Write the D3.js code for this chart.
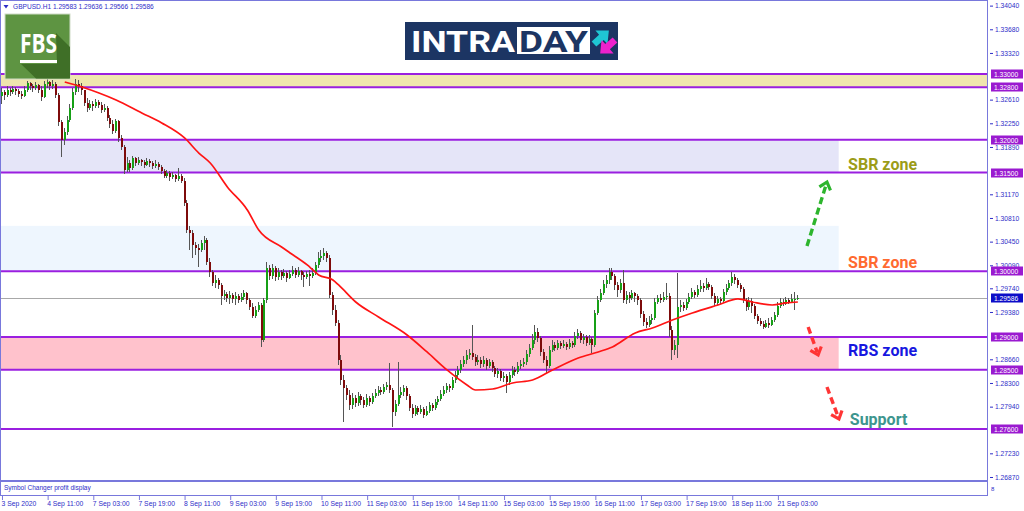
<!DOCTYPE html>
<html>
<head>
<meta charset="utf-8">
<script src="https://cdn.jsdelivr.net/npm/d3@7"></script>
<style>
  body { margin: 0; background: #fff; overflow: hidden; }
  svg { display: block; }
</style>
</head>
<body>
<div id="container"></div>
<script>
// GBPUSD H1 candles, 3 Sep 19:00 -> 21 Sep 10:00 (open = previous close)
const firstOpen = 1.3267;
const closes = [
  1.3273,1.3268,1.3276,1.3273,1.3277,1.3274,1.3270,1.3267,1.3276,1.3286,
  1.3282,1.3279,1.3283,1.3276,1.3265,1.3285,1.3288,1.3282,1.3285,1.3268,
  1.3227,1.3200,1.3212,1.3230,1.3248,1.3273,1.3285,1.3282,1.3276,1.3256,
  1.3248,1.3254,1.3251,1.3257,1.3253,1.3245,1.3248,1.3233,1.3224,1.3213,
  1.3229,1.3203,1.3189,1.3154,1.3165,1.3157,1.3172,1.3165,1.3169,1.3166,
  1.3162,1.3168,1.3165,1.3160,1.3163,1.3159,1.3152,1.3145,1.3149,1.3143,
  1.3146,1.3140,1.3145,1.3137,1.3104,1.3063,1.3058,1.3040,1.3035,1.3032,
  1.3043,1.3048,1.3014,1.2999,1.2982,1.2987,1.2979,1.2962,1.2965,1.2959,
  1.2964,1.2958,1.2962,1.2956,1.2961,1.2967,1.2956,1.2946,1.2932,1.2941,
  1.2949,1.2895,1.2956,1.3005,1.2993,1.3005,1.2991,1.2999,1.2993,1.2997,
  1.2990,1.2996,1.3002,1.2994,1.3000,1.2994,1.2991,1.2996,1.2993,1.2997,
  1.3009,1.3020,1.3023,1.3028,1.3020,1.2964,1.2941,1.2921,1.2865,1.2835,
  1.2822,1.2812,1.2797,1.2807,1.2800,1.2810,1.2804,1.2797,1.2807,1.2801,
  1.2810,1.2815,1.2819,1.2816,1.2824,1.2827,1.2819,1.2786,1.2798,1.2812,
  1.2816,1.2822,1.2810,1.2792,1.2783,1.2792,1.2786,1.2790,1.2781,1.2787,
  1.2797,1.2792,1.2801,1.2806,1.2813,1.2819,1.2825,1.2822,1.2835,1.2842,
  1.2850,1.2859,1.2865,1.2873,1.2876,1.2870,1.2862,1.2865,1.2859,1.2865,
  1.2856,1.2862,1.2853,1.2844,1.2848,1.2838,1.2841,1.2832,1.2842,1.2850,
  1.2847,1.2856,1.2859,1.2862,1.2874,1.2883,1.2895,1.2908,1.2898,1.2877,
  1.2865,1.2856,1.2880,1.2888,1.2883,1.2891,1.2886,1.2889,1.2885,1.2891,
  1.2888,1.2902,1.2906,1.2895,1.2900,1.2891,1.2897,1.2888,1.2936,1.2956,
  1.2967,1.2981,1.2987,1.2999,1.2993,1.2979,1.2971,1.2982,1.2956,1.2964,
  1.2959,1.2967,1.2962,1.2956,1.2935,1.2923,1.2918,1.2926,1.2929,1.2953,
  1.2959,1.2956,1.2961,1.2962,1.2911,1.2880,1.2888,1.2946,1.2949,1.2944,
  1.2953,1.2961,1.2968,1.2964,1.2973,1.2978,1.2975,1.2981,1.2976,1.2962,
  1.2952,1.2958,1.2955,1.2968,1.2975,1.2982,1.2991,1.2987,1.2979,1.2973,
  1.2956,1.2946,1.2955,1.2947,1.2932,1.2924,1.2920,1.2915,1.2921,1.2918,
  1.2926,1.2933,1.2947,1.2953,1.2950,1.2956,1.2953,1.2958,1.29583,1.29586
];
const highs = [
  1.3279,1.3276,1.3282,1.3279,1.3282,1.3280,1.3277,1.3274,1.3282,1.3289,
  1.3288,1.3285,1.3288,1.3285,1.3282,1.3289,1.3292,1.3289,1.3291,1.3288,
  1.3271,1.3230,1.3218,1.3236,1.3254,1.3279,1.3292,1.3291,1.3286,1.3273,
  1.3263,1.3260,1.3259,1.3262,1.3260,1.3257,1.3254,1.3251,1.3238,1.3230,
  1.3232,1.3230,1.3207,1.3192,1.3174,1.3169,1.3175,1.3174,1.3174,1.3171,
  1.3169,1.3172,1.3171,1.3168,1.3169,1.3166,1.3162,1.3156,1.3154,1.3152,
  1.3151,1.3148,1.3157,1.3148,1.3142,1.3108,1.3069,1.3063,1.3044,1.3041,
  1.3048,1.3054,1.3051,1.3020,1.3002,1.2994,1.2990,1.2982,1.2971,1.2968,
  1.2970,1.2967,1.2968,1.2965,1.2967,1.2971,1.2968,1.2959,1.2952,1.2947,
  1.2953,1.2952,1.2959,1.3014,1.3009,1.3011,1.3008,1.3005,1.3002,1.3003,
  1.3000,1.3002,1.3008,1.3005,1.3006,1.3002,1.2999,1.3000,1.3002,1.3005,
  1.3014,1.3029,1.3032,1.3035,1.3031,1.3025,1.2968,1.2949,1.2926,1.2873,
  1.2842,1.2827,1.2819,1.2815,1.2812,1.2816,1.2813,1.2809,1.2813,1.2810,
  1.2815,1.2821,1.2825,1.2824,1.2828,1.2832,1.2860,1.2822,1.2804,1.2862,
  1.2824,1.2827,1.2825,1.2813,1.2798,1.2797,1.2795,1.2797,1.2794,1.2795,
  1.2801,1.2800,1.2806,1.2810,1.2819,1.2825,1.2830,1.2828,1.2839,1.2848,
  1.2856,1.2865,1.2871,1.2880,1.2882,1.2918,1.2874,1.2873,1.2870,1.2871,
  1.2868,1.2867,1.2865,1.2856,1.2853,1.2851,1.2847,1.2844,1.2847,1.2856,
  1.2854,1.2862,1.2865,1.2868,1.2880,1.2889,1.2905,1.2918,1.2914,1.2902,
  1.2882,1.2871,1.2886,1.2895,1.2892,1.2895,1.2894,1.2895,1.2892,1.2897,
  1.2894,1.2908,1.2912,1.2909,1.2905,1.2903,1.2903,1.2900,1.2941,1.2962,
  1.2973,1.2987,1.2994,1.3005,1.3005,1.2996,1.2984,1.2988,1.3002,1.2970,
  1.2968,1.2971,1.2968,1.2965,1.2959,1.2940,1.2929,1.2932,1.2935,1.2959,
  1.2964,1.2965,1.2968,1.2982,1.2967,1.2917,1.2895,1.2997,1.2956,1.2953,
  1.2958,1.2967,1.2975,1.2971,1.2979,1.2987,1.2982,1.2990,1.2984,1.2979,
  1.2967,1.2962,1.2961,1.2973,1.2981,1.2987,1.2999,1.2996,1.2990,1.2982,
  1.2976,1.2959,1.2961,1.2959,1.2950,1.2935,1.2929,1.2924,1.2926,1.2929,
  1.2930,1.2938,1.2953,1.2959,1.2958,1.2961,1.2959,1.2965,1.2968,1.29636
];
const lows = [
  1.3254,1.3260,1.3265,1.3267,1.3270,1.3268,1.3265,1.3262,1.3265,1.3273,
  1.3276,1.3273,1.3276,1.3271,1.3259,1.3263,1.3279,1.3276,1.3277,1.3263,
  1.3221,1.3174,1.3192,1.3207,1.3227,1.3245,1.3268,1.3273,1.3268,1.3251,
  1.3242,1.3245,1.3244,1.3248,1.3248,1.3241,1.3242,1.3229,1.3218,1.3209,
  1.3210,1.3197,1.3184,1.3148,1.3151,1.3151,1.3154,1.3160,1.3162,1.3160,
  1.3157,1.3160,1.3159,1.3156,1.3157,1.3154,1.3148,1.3142,1.3142,1.3137,
  1.3140,1.3136,1.3137,1.3134,1.3099,1.3058,1.3032,1.3020,1.3025,1.3006,
  1.3029,1.3032,1.3009,1.2991,1.2978,1.2975,1.2973,1.2949,1.2956,1.2953,
  1.2950,1.2952,1.2949,1.2952,1.2953,1.2956,1.2950,1.2941,1.2929,1.2929,
  1.2938,1.2885,1.2892,1.2952,1.2987,1.2988,1.2985,1.2987,1.2987,1.2990,
  1.2984,1.2988,1.2993,1.2990,1.2991,1.2987,1.2976,1.2988,1.2978,1.2990,
  1.2994,1.3005,1.3014,1.3017,1.3014,1.2959,1.2933,1.2917,1.2857,1.2827,
  1.2771,1.2804,1.2789,1.2790,1.2794,1.2795,1.2797,1.2792,1.2794,1.2795,
  1.2798,1.2807,1.2810,1.2812,1.2813,1.2819,1.2815,1.2763,1.2780,1.2795,
  1.2807,1.2810,1.2804,1.2787,1.2777,1.2780,1.2781,1.2783,1.2777,1.2780,
  1.2784,1.2787,1.2789,1.2797,1.2803,1.2810,1.2815,1.2816,1.2819,1.2830,
  1.2838,1.2845,1.2854,1.2859,1.2866,1.2865,1.2856,1.2857,1.2853,1.2854,
  1.2850,1.2853,1.2847,1.2839,1.2838,1.2833,1.2832,1.2815,1.2827,1.2838,
  1.2841,1.2844,1.2851,1.2854,1.2857,1.2870,1.2880,1.2889,1.2892,1.2871,
  1.2860,1.2845,1.2853,1.2877,1.2879,1.2880,1.2882,1.2883,1.2880,1.2882,
  1.2883,1.2885,1.2897,1.2891,1.2889,1.2886,1.2888,1.2876,1.2885,1.2933,
  1.2953,1.2964,1.2975,1.2981,1.2987,1.2971,1.2961,1.2967,1.2952,1.2950,
  1.2952,1.2956,1.2953,1.2949,1.2929,1.2917,1.2914,1.2915,1.2920,1.2926,
  1.2950,1.2952,1.2953,1.2956,1.2900,1.2865,1.2873,1.2868,1.2938,1.2940,
  1.2941,1.2950,1.2958,1.2959,1.2961,1.2968,1.2968,1.2971,1.2971,1.2958,
  1.2947,1.2949,1.2950,1.2952,1.2964,1.2971,1.2978,1.2981,1.2975,1.2968,
  1.2952,1.2940,1.2941,1.2936,1.2927,1.2920,1.2917,1.2912,1.2914,1.2914,
  1.2917,1.2923,1.2930,1.2944,1.2947,1.2949,1.2950,1.2952,1.2941,1.29566
];

// moving average (red line), read at selected bars
const maBars = [22,28,34,40,49,56,64,69,73,79,86,90,98,101,107,109,111,116,118,124,132,142,149,156,163,166,172,179,186,193,202,209,214,222,228,235,242,251,258,263,270,275,279];
const maValues = [1.32878,1.32802,1.32711,1.32605,1.32407,1.32255,1.32027,1.31798,1.31646,1.31282,1.30932,1.30627,1.30369,1.30278,1.30095,1.30019,1.29943,1.29867,1.29791,1.29532,1.29304,1.29030,1.28772,1.28498,1.28270,1.28193,1.28208,1.28300,1.28345,1.28498,1.28680,1.28772,1.28848,1.29061,1.29137,1.29258,1.29365,1.29486,1.29578,1.29532,1.29486,1.29517,1.29532];

// horizontal levels and shaded zones
const levels = [1.33, 1.328, 1.32, 1.315, 1.30, 1.29, 1.285, 1.276];
const zoneTops = [1.33, 1.32, 1.3069, 1.29];
const zoneBottoms = [1.328, 1.315, 1.30, 1.285];
const zoneEndBars = [345.3, 293.3, 293.3, 293.3];
const lastPrice = 1.29586;

// axis ticks
const priceTicks = [1.34040,1.33680,1.33320,1.32610,1.32250,1.31890,1.31170,1.30810,1.30450,1.30090,1.29740,1.29380,1.28660,1.28300,1.27940,1.27230,1.26870];
const timeTickBars = [0,16,32,48,64,80,96,112,128,144,160,176,192,208,224,240,256,272];
const timeTickLabels = ["3 Sep 2020","4 Sep 11:00","7 Sep 03:00","7 Sep 19:00","8 Sep 11:00","9 Sep 03:00","9 Sep 19:00","10 Sep 11:00","11 Sep 03:00","11 Sep 19:00","14 Sep 11:00","15 Sep 03:00","15 Sep 19:00","16 Sep 11:00","17 Sep 03:00","17 Sep 19:00","18 Sep 11:00","21 Sep 03:00"];

// annotations: [bar, price]
const zoneLabels = ["SBR zone", "SBR zone", "RBS zone", "Support"];
const zoneLabelAt = [[296.6, 1.3154], [296.6, 1.30055], [296.6, 1.28705], [297.2, 1.27663]];
const arrowFrom = [[282.2, 1.30384], [282.6, 1.29152], [289.2, 1.28239]];
const arrowTo = [[289.2, 1.31357], [286.1, 1.28726], [293.4, 1.27752]];

// ---------------------------------------------------------------
const width = 1024, height = 511;
const pLeft = 1, pRight = 987, pTop = 1, pBottom = 481;
const frame = "#7878dc";
const axisText = "#2d2dc8";
const small = "'Liberation Sans', Arial, sans-serif";

const svg = d3.select("#container").append("svg")
  .attr("width", width).attr("height", height);

const x = d3.scaleLinear().domain([-0.35, 345.3]).range([pLeft, pRight]);
const y = d3.scaleLinear().domain([1.26809, 1.34095]).range([pBottom, 2]);

svg.append("clipPath").attr("id", "plot")
  .append("rect").attr("x", pLeft).attr("y", pTop).attr("width", pRight - pLeft).attr("height", pBottom - pTop);

const plot = svg.append("g").attr("clip-path", "url(#plot)");

// zones
const zoneFills = ["#efe6ae", "#e5e5f8", "#eef6fe", "#ffc2cc"];
plot.selectAll(".zone").data(zoneTops).enter().append("rect")
  .attr("x", pLeft)
  .attr("y", d => y(d))
  .attr("width", (d, i) => x(zoneEndBars[i]) - pLeft)
  .attr("height", (d, i) => y(zoneBottoms[i]) - y(d))
  .attr("fill", (d, i) => zoneFills[i]);

// level lines
plot.selectAll(".lvl").data(levels).enter().append("line")
  .attr("x1", pLeft).attr("x2", pRight)
  .attr("y1", d => y(d)).attr("y2", d => y(d))
  .attr("stroke", "#9a1fe0").attr("stroke-width", 2);

// last price line
plot.append("line")
  .attr("x1", pLeft).attr("x2", pRight)
  .attr("y1", y(lastPrice)).attr("y2", y(lastPrice))
  .attr("stroke", "#a8a8a8").attr("stroke-width", 1).attr("shape-rendering", "crispEdges");

// candles
const bars = closes.map((c, i) => {
  const o = i === 0 ? firstOpen : closes[i - 1];
  return { i, o, c, h: Math.max(highs[i], o, c), l: Math.min(lows[i], o, c) };
});
const cg = plot.append("g").attr("shape-rendering", "crispEdges");
cg.selectAll(".wick").data(bars).enter().append("line")
  .attr("x1", d => Math.round(x(d.i)) - 0.5).attr("x2", d => Math.round(x(d.i)) - 0.5)
  .attr("y1", d => y(d.h)).attr("y2", d => y(d.l))
  .attr("stroke", "#555").attr("stroke-width", 1);
cg.selectAll(".body").data(bars).enter().append("rect")
  .attr("x", d => Math.round(x(d.i)) - 1)
  .attr("width", 2)
  .attr("y", d => y(Math.max(d.o, d.c)))
  .attr("height", d => Math.max(1, Math.abs(y(d.o) - y(d.c))))
  .attr("fill", d => d.c >= d.o ? "#16a016" : "#7e0b0b");

// moving average
const ma = maBars.map((b, i) => [b, maValues[i]]);
plot.append("path")
  .attr("d", d3.line().x(d => x(d[0])).y(d => y(d[1])).curve(d3.curveMonotoneX)(ma))
  .attr("fill", "none").attr("stroke", "#ff1414").attr("stroke-width", 1.7);

// annotation text
const labelColors = ["#9c9c18", "#ff6a30", "#1717e0", "#3d958e"];
svg.selectAll(".zlabel").data(zoneLabels).enter().append("text")
  .attr("x", (d, i) => x(zoneLabelAt[i][0]))
  .attr("y", (d, i) => y(zoneLabelAt[i][1]))
  .attr("fill", (d, i) => labelColors[i])
  .style("font-family", "Roboto, sans-serif")
  .style("font-weight", 700)
  .style("font-size", "16px")
  .text(d => d);

// dashed arrows
const arrowColors = ["#2db52d", "#ff3535", "#ff3535"];
arrowFrom.forEach((f, i) => {
  const x1 = x(f[0]), y1 = y(f[1]), x2 = x(arrowTo[i][0]), y2 = y(arrowTo[i][1]);
  const a = Math.atan2(y2 - y1, x2 - x1);
  svg.append("line")
    .attr("x1", x1).attr("y1", y1)
    .attr("x2", x2 - 3 * Math.cos(a)).attr("y2", y2 - 3 * Math.sin(a))
    .attr("stroke", arrowColors[i]).attr("stroke-width", 3.4)
    .attr("stroke-dasharray", "7,4");
  const L = 9, s = 0.7;
  const pts = [
    [x2 - L * Math.cos(a - s), y2 - L * Math.sin(a - s)],
    [x2, y2],
    [x2 - L * Math.cos(a + s), y2 - L * Math.sin(a + s)]
  ];
  svg.append("polyline")
    .attr("points", pts.map(p => p.join(",")).join(" "))
    .attr("fill", "none").attr("stroke", arrowColors[i])
    .attr("stroke-width", 3.2).attr("stroke-linejoin", "miter");
});

// FBS logo
const fbs = svg.append("g");
fbs.append("rect").attr("x", 5).attr("y", 14).attr("width", 65).attr("height", 65)
  .attr("fill", "#5e9442").attr("stroke", "#cfdcc8").attr("stroke-width", 1);
fbs.append("polygon").attr("points", "56,33 70,47 70,78.5 36,78.5 21,64 57,64")
  .attr("fill", "#3f6f27");
fbs.append("text").attr("x", 20).attr("y", 53)
  .attr("textLength", 37).attr("lengthAdjust", "spacingAndGlyphs")
  .style("font-family", "'Open Sans', sans-serif").style("font-weight", 700).style("font-size", "27px")
  .attr("fill", "#fff").text("FBS");
fbs.append("rect").attr("x", 20).attr("y", 60).attr("width", 37).attr("height", 3).attr("fill", "#fff");

// INTRADAY logo
const navy = "#1c3563";
const intra = svg.append("g");
intra.append("rect").attr("x", 405).attr("y", 22).attr("width", 213).attr("height", 38).attr("fill", navy);
intra.append("text").attr("x", 411).attr("y", 52)
  .attr("textLength", 104).attr("lengthAdjust", "spacingAndGlyphs")
  .style("font-family", "Roboto, sans-serif").style("font-weight", 700).style("font-size", "30px")
  .attr("fill", "#fff").text("INTRA");
intra.append("rect").attr("x", 517).attr("y", 27).attr("width", 73).attr("height", 27).attr("fill", "#fff");
intra.append("text").attr("x", 519).attr("y", 52)
  .attr("textLength", 69).attr("lengthAdjust", "spacingAndGlyphs")
  .style("font-family", "Roboto, sans-serif").style("font-weight", 700).style("font-size", "30px")
  .attr("fill", navy).text("DAY");
const arrowShape = "0,-3.5 10,-3.5 10,-9 20,0 10,9 10,3.5 0,3.5";
intra.append("polygon").attr("points", arrowShape)
  .attr("transform", "translate(594,44) rotate(-42)").attr("fill", "#1fc7d4");
intra.append("polygon").attr("points", arrowShape)
  .attr("transform", "translate(615,40) rotate(138)").attr("fill", "#ee22cc");

// frame
const fr = svg.append("g").attr("shape-rendering", "crispEdges").attr("stroke", frame).attr("fill", "none");
fr.append("line").attr("x1", 0).attr("x2", pRight).attr("y1", 0.5).attr("y2", 0.5);
fr.append("line").attr("x1", 0.5).attr("x2", 0.5).attr("y1", 0).attr("y2", 496);
fr.append("line").attr("x1", pRight + 0.5).attr("x2", pRight + 0.5).attr("y1", 0).attr("y2", 496);
fr.append("rect").attr("x", 0).attr("y", 480).attr("width", pRight + 0.5).attr("height", 2).attr("fill", frame).attr("stroke", "none");
fr.append("line").attr("x1", 0).attr("x2", pRight).attr("y1", 495.5).attr("y2", 495.5);

svg.append("text").attr("x", 4).attr("y", 490)
  .style("font-family", small).style("font-size", "6.5px").attr("fill", axisText)
  .text("Symbol Changer profit display");
svg.append("text").attr("x", 991).attr("y", 491)
  .style("font-family", small).style("font-size", "6px").attr("fill", axisText).text("8");

// header
svg.append("path").attr("d", "M3.5,5 L8.5,5 L6,8.5 Z").attr("fill", "#2d2dc8");
svg.append("text").attr("x", 13).attr("y", 9)
  .style("font-family", small).style("font-size", "6.6px").attr("fill", axisText)
  .text("GBPUSD.H1  1.29583 1.29636 1.29566 1.29586");

// price axis
const yAxis = d3.axisRight(y).tickValues(priceTicks).tickFormat(d3.format(".5f")).tickSize(3).tickPadding(2);
const ya = svg.append("g").attr("transform", `translate(${pRight + 3},0)`).call(yAxis);
ya.select(".domain").remove();
ya.selectAll("line").attr("stroke", axisText);
ya.selectAll("text").attr("fill", axisText).style("font-family", small).style("font-size", "6.7px");

// time axis
const xAxis = d3.axisBottom(x).tickValues(timeTickBars).tickFormat((d, i) => timeTickLabels[i]).tickSize(4).tickPadding(1);
const xa = svg.append("g").attr("transform", "translate(0,496)").call(xAxis);
xa.select(".domain").remove();
xa.selectAll("line").attr("stroke", frame);
xa.selectAll("text").attr("fill", axisText).attr("text-anchor", "start").attr("dx", -1)
  .style("font-family", small).style("font-size", "6.8px");

// level price boxes
const boxes = svg.append("g");
const boxVals = levels.concat([lastPrice]);
boxes.selectAll("rect").data(boxVals).enter().append("rect")
  .attr("x", pRight + 4).attr("y", d => Math.round(y(d)) - 4.5)
  .attr("width", 32).attr("height", 9)
  .attr("fill", d => d === lastPrice ? "#0c0cc8" : "#9a1ad0");
boxes.selectAll("text").data(boxVals).enter().append("text")
  .attr("x", pRight + 7).attr("y", d => Math.round(y(d)) + 2.5)
  .style("font-family", small).style("font-size", "6.7px").attr("fill", "#fff")
  .text(d => d3.format(".5f")(d));
</script>
</body>
</html>
